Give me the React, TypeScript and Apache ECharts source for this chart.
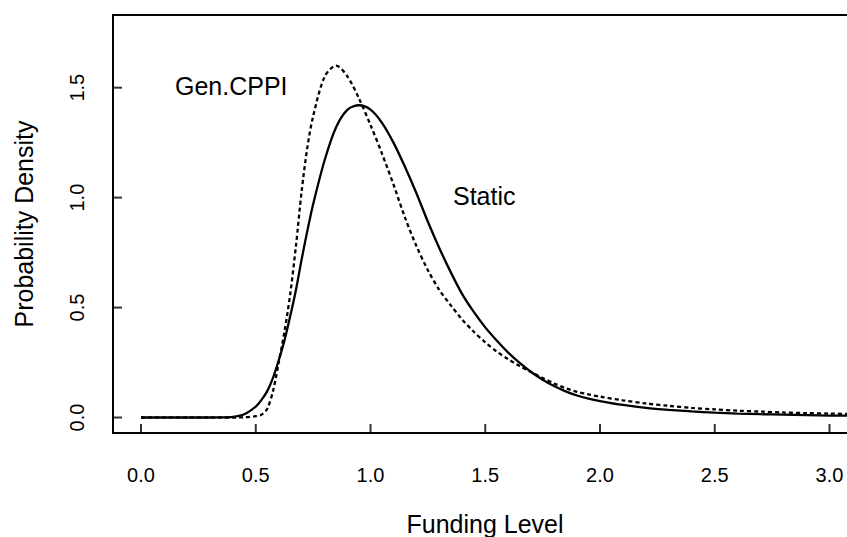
import React, { useEffect, useRef } from "react";
import * as echarts from "echarts";

const gridX = [0, 0.1, 0.2, 0.3, 0.35, 0.4, 0.45, 0.5, 0.525, 0.55, 0.575, 0.6, 0.625, 0.65, 0.675, 0.7, 0.725, 0.75, 0.8, 0.85, 0.9, 0.95, 1.0, 1.05, 1.1, 1.15, 1.2, 1.25, 1.3, 1.35, 1.4, 1.45, 1.5, 1.55, 1.6, 1.65, 1.7, 1.75, 1.8, 1.85, 1.9, 1.95, 2.0, 2.1, 2.2, 2.3, 2.4, 2.5, 2.6, 2.7, 2.8, 2.9, 3.0, 3.1, 3.15];

const staticY = [0, 0, 0, 0, 0.0005, 0.003, 0.015, 0.05, 0.08, 0.12, 0.18, 0.26, 0.35, 0.46, 0.58, 0.72, 0.85, 0.97, 1.17, 1.32, 1.40, 1.42, 1.40, 1.34, 1.25, 1.14, 1.02, 0.89, 0.77, 0.66, 0.56, 0.48, 0.41, 0.35, 0.295, 0.248, 0.207, 0.172, 0.143, 0.119, 0.1, 0.086, 0.075, 0.057, 0.044, 0.035, 0.028, 0.022, 0.018, 0.015, 0.013, 0.011, 0.009, 0.008, 0.008];

const cppiY = [0, 0, 0, 0, 0, 0, 0.001, 0.006, 0.013, 0.04, 0.12, 0.25, 0.39, 0.56, 0.78, 1.03, 1.23, 1.37, 1.55, 1.60, 1.55, 1.45, 1.33, 1.20, 1.06, 0.91, 0.78, 0.67, 0.58, 0.51, 0.445, 0.39, 0.342, 0.30, 0.265, 0.234, 0.206, 0.18, 0.155, 0.133, 0.117, 0.105, 0.095, 0.078, 0.064, 0.053, 0.044, 0.037, 0.031, 0.027, 0.023, 0.020, 0.018, 0.016, 0.015];

const xTicks = [0, 0.5, 1.0, 1.5, 2.0, 2.5, 3.0];
const yTicks = [0, 0.5, 1.0, 1.5];

const X_MIN = -0.1221;
const X_MAX = 3.1721;
const Y_MIN = -0.0704;
const Y_MAX = 1.8304;

const FONT = "'Liberation Sans', Arial, Helvetica, sans-serif";
const TICK_LEN = 9;

export default function App() {
  const ref = useRef<HTMLDivElement>(null);
  useEffect(() => {
    if (!ref.current) return;
    const chart = echarts.init(ref.current, null, { renderer: "svg" });
    chart.setOption({
      animation: false,
      backgroundColor: "#ffffff",
      grid: {
        left: 113,
        top: 15,
        width: 756,
        height: 418,
        show: true,
        borderColor: "#000",
        borderWidth: 2,
        backgroundColor: "transparent",
      },
      xAxis: {
        type: "value",
        position: "bottom",
        min: X_MIN,
        max: X_MAX,
        axisLine: { show: false, onZero: false },
        splitLine: { show: false },
        axisTick: { show: false },
        axisLabel: {
          show: true,
          customValues: xTicks,
          formatter: (v: number) => v.toFixed(1),
          fontSize: 20,
          fontFamily: FONT,
          color: "#000",
          margin: 32,
        },
      },
      yAxis: {
        type: "value",
        position: "left",
        min: Y_MIN,
        max: Y_MAX,
        axisLine: { show: false, onZero: false },
        splitLine: { show: false },
        axisTick: { show: false },
        axisLabel: {
          show: true,
          customValues: yTicks,
          rotate: 90,
          formatter: (v: number) => v.toFixed(1),
          fontSize: 20,
          fontFamily: FONT,
          color: "#000",
          margin: 26,
        },
      },
      series: [
        {
          name: "Static",
          type: "line",
          data: gridX.map((x, i) => [x, staticY[i]]),
          showSymbol: false,
          symbol: "none",
          smooth: 0.3,
          lineStyle: { color: "#000", width: 2.3, type: "solid" },
        },
        {
          name: "Gen.CPPI",
          type: "line",
          data: gridX.map((x, i) => [x, cppiY[i]]),
          showSymbol: false,
          symbol: "none",
          smooth: 0.3,
          lineStyle: { color: "#000", width: 2.3, type: [4, 3] },
        },
        {
          name: "xTickMarks",
          type: "scatter",
          silent: true,
          data: xTicks.map((v) => [v, Y_MIN]),
          symbol: "rect",
          symbolSize: [2, TICK_LEN],
          symbolOffset: [0, -TICK_LEN / 2],
          itemStyle: { color: "#000" },
          z: 10,
        },
        {
          name: "yTickMarks",
          type: "scatter",
          silent: true,
          data: yTicks.map((v) => [X_MIN, v]),
          symbol: "rect",
          symbolSize: [TICK_LEN, 2],
          symbolOffset: [TICK_LEN / 2, 0],
          itemStyle: { color: "#000" },
          z: 10,
        },
      ],
      graphic: [
        {
          type: "text",
          left: 175,
          top: 73,
          style: { text: "Gen.CPPI", fontSize: 25, fontFamily: FONT, fill: "#000" },
        },
        {
          type: "text",
          left: 453,
          top: 183,
          style: { text: "Static", fontSize: 25, fontFamily: FONT, fill: "#000" },
        },
        {
          type: "text",
          x: 485,
          y: 524,
          style: {
            text: "Funding Level",
            fontSize: 25,
            fontFamily: FONT,
            fill: "#000",
            align: "center",
            verticalAlign: "middle",
          },
        },
        {
          type: "text",
          x: 24,
          y: 224,
          rotation: Math.PI / 2,
          style: {
            text: "Probability Density",
            fontSize: 25,
            fontFamily: FONT,
            fill: "#000",
            align: "center",
            verticalAlign: "middle",
          },
        },
      ],
    });
    return () => chart.dispose();
  }, []);
  return (
    <div
      style={{
        position: "fixed",
        left: 0,
        top: 0,
        width: 847,
        height: 537,
        overflow: "hidden",
        background: "#fff",
      }}
    >
      <div ref={ref} style={{ width: 900, height: 537 }} />
    </div>
  );
}
